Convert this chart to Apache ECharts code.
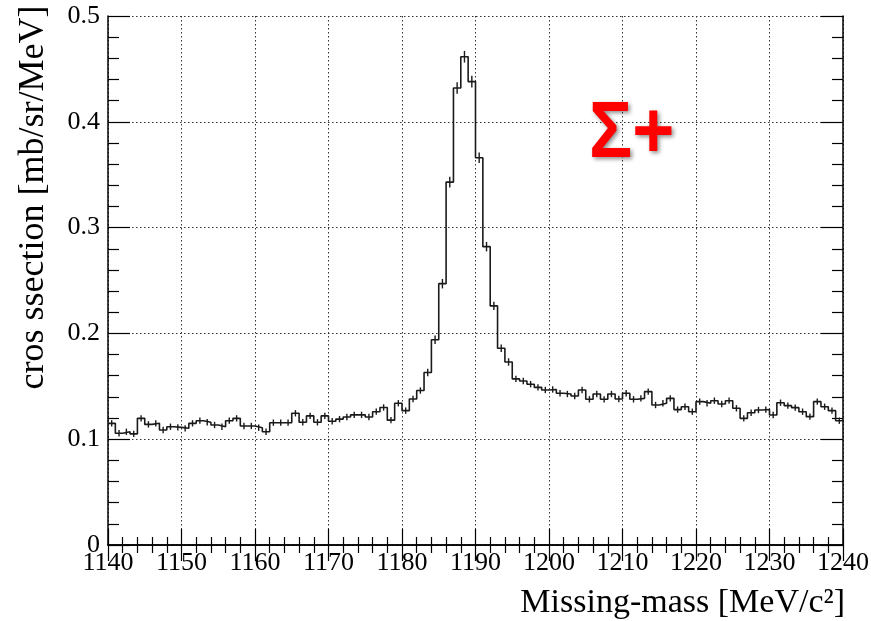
<!DOCTYPE html>
<html>
<head>
<meta charset="utf-8">
<script src="https://cdn.jsdelivr.net/npm/echarts@6/dist/echarts.min.js"></script>
<style>html,body{margin:0;padding:0;background:#fff;}#c{width:871px;height:621px;}</style>
</head>
<body>
<div id="c"></div>
<script>
// Bin lower edges (MeV/c^2), 1 MeV bins
const binStart = [1140,1141,1142,1143,1144,1145,1146,1147,1148,1149,
  1150,1151,1152,1153,1154,1155,1156,1157,1158,1159,
  1160,1161,1162,1163,1164,1165,1166,1167,1168,1169,
  1170,1171,1172,1173,1174,1175,1176,1177,1178,1179,
  1180,1181,1182,1183,1184,1185,1186,1187,1188,1189,
  1190,1191,1192,1193,1194,1195,1196,1197,1198,1199,
  1200,1201,1202,1203,1204,1205,1206,1207,1208,1209,
  1210,1211,1212,1213,1214,1215,1216,1217,1218,1219,
  1220,1221,1222,1223,1224,1225,1226,1227,1228,1229,
  1230,1231,1232,1233,1234,1235,1236,1237,1238,1239];
const binWidth = 1;
// cross section per bin (mb/sr/MeV)
const crossSection = [0.115,0.1056,0.107,0.105,0.1197,0.114,0.115,0.1087,0.1118,0.1112,
  0.1103,0.115,0.1175,0.116,0.1134,0.1118,0.1175,0.1197,0.1125,0.1125,
  0.1109,0.107,0.1156,0.1156,0.1156,0.1245,0.116,0.122,0.116,0.122,
  0.117,0.119,0.121,0.123,0.123,0.121,0.126,0.130,0.118,0.134,
  0.127,0.138,0.146,0.163,0.194,0.247,0.343,0.432,0.4615,0.438,
  0.366,0.282,0.226,0.186,0.173,0.157,0.155,0.152,0.149,0.1465,
  0.147,0.1434,0.1427,0.1408,0.1465,0.1377,0.1427,0.1377,0.1427,0.138,
  0.1434,0.1377,0.1386,0.145,0.1323,0.134,0.1386,0.128,0.1307,0.126,
  0.1355,0.134,0.1364,0.1333,0.1364,0.1292,0.1197,0.125,0.1276,0.128,
  0.1229,0.1345,0.1317,0.1298,0.126,0.1213,0.1355,0.1307,0.127,0.1175];
// statistical errors per bin
const errors = [0.003,0.003,0.003,0.003,0.003,0.003,0.003,0.003,0.003,0.003,
  0.003,0.003,0.003,0.003,0.003,0.003,0.003,0.003,0.003,0.003,
  0.003,0.003,0.003,0.003,0.003,0.003,0.003,0.003,0.003,0.003,
  0.003,0.003,0.003,0.003,0.003,0.003,0.003,0.003,0.003,0.003,
  0.003,0.003,0.003,0.0035,0.004,0.0045,0.005,0.0055,0.0055,0.0055,
  0.005,0.0045,0.004,0.0035,0.0035,0.003,0.003,0.003,0.003,0.003,
  0.003,0.003,0.003,0.003,0.003,0.003,0.003,0.003,0.003,0.003,
  0.003,0.003,0.003,0.003,0.003,0.003,0.003,0.003,0.003,0.003,
  0.003,0.003,0.003,0.003,0.003,0.003,0.003,0.003,0.003,0.003,
  0.003,0.003,0.003,0.003,0.003,0.003,0.003,0.003,0.003,0.003];
const xTicks = [1140,1150,1160,1170,1180,1190,1200,1210,1220,1230,1240];
const yTicks = [0,0.1,0.2,0.3,0.4,0.5];
const xTitle = 'Missing-mass [MeV/c²]';
const yTitle = 'cros ssection [mb/sr/MeV]';
const annotation = 'Σ+';

const stepData = binStart.map((x, i) => [x, crossSection[i]]);
stepData.push([binStart[binStart.length - 1] + binWidth, crossSection[crossSection.length - 1]]);
const errData = binStart.map((x, i) => [x + binWidth / 2, crossSection[i] - errors[i], crossSection[i] + errors[i]]);

const serif = '"Liberation Serif", "DejaVu Serif", serif';
const tickFont = {fontFamily: serif, fontSize: 26, color: '#000'};
const frameLine = {show: true, lineStyle: {color: '#000', width: 1.5}};
const gridLine = {show: true, lineStyle: {color: '#333', width: 1, type: [1.5, 2.5]}};

function xAx(pos, main) {
  return {
    type: 'value', position: pos, min: xTicks[0], max: xTicks[xTicks.length - 1], interval: 10,
    axisLine: frameLine,
    axisTick: {show: true, inside: true, length: 16, lineStyle: {color: '#000', width: 1.2}},
    minorTick: {show: true, splitNumber: 5, length: 8, lineStyle: {color: '#000', width: 1.2}},
    axisLabel: main ? Object.assign({show: true, margin: 5, showMinLabel: true, showMaxLabel: true,
      formatter: v => String(v)}, tickFont) : {show: false},
    splitLine: main ? gridLine : {show: false},
    name: main ? xTitle : '', nameLocation: 'end', nameGap: 2,
    nameTextStyle: {fontFamily: serif, fontSize: 34, color: '#000', align: 'right', verticalAlign: 'top', padding: [41, 0, 0, 0]}
  };
}
function yAx(pos, main) {
  return {
    type: 'value', position: pos, min: yTicks[0], max: yTicks[yTicks.length - 1], interval: 0.1,
    axisLine: frameLine,
    axisTick: {show: true, inside: true, length: 22, lineStyle: {color: '#000', width: 1.2}},
    minorTick: {show: true, splitNumber: 5, length: 11, lineStyle: {color: '#000', width: 1.2}},
    axisLabel: main ? Object.assign({show: true, margin: 8, formatter: v => (v === 0 ? '0' : v.toFixed(1))}, tickFont) : {show: false},
    splitLine: main ? gridLine : {show: false},
    name: main ? yTitle : '', nameLocation: 'middle', nameGap: 56, nameRotate: 90,
    nameTextStyle: {fontFamily: serif, fontSize: 36, color: '#000', padding: [0, 0, 0, 166]}
  };
}

const chart = echarts.init(document.getElementById('c'), null, {renderer: 'canvas'});
chart.setOption({
  animation: false,
  backgroundColor: '#fff',
  grid: {left: 108, right: 28, top: 16, bottom: 76, containLabel: false, outerBoundsMode: 'none'},
  xAxis: [xAx('bottom', true), xAx('top', false)],
  yAxis: [yAx('left', true), yAx('right', false)],
  graphic: [{
    type: 'text', x: 589, y: 95, scaleX: 0.9, z: 100,
    style: {text: annotation, fill: '#ff0000', font: 'bold 80px "Liberation Sans", Arial, sans-serif',
      textShadowColor: 'rgba(0,0,0,0.45)', textShadowBlur: 4, textShadowOffsetX: 2, textShadowOffsetY: 2}
  }],
  series: [{
    type: 'line', step: 'end', data: stepData, xAxisIndex: 0, yAxisIndex: 0,
    showSymbol: false, symbol: 'none', lineStyle: {color: '#1a1a1a', width: 1.6}, z: 5
  }, {
    type: 'custom', xAxisIndex: 0, yAxisIndex: 0, data: errData, z: 6,
    renderItem: function (params, api) {
      const lo = api.coord([api.value(0), api.value(1)]);
      const hi = api.coord([api.value(0), api.value(2)]);
      return {type: 'line', shape: {x1: lo[0], y1: lo[1], x2: hi[0], y2: hi[1]},
        style: {stroke: '#1a1a1a', lineWidth: 1.4}};
    }
  }]
});
</script>
</body>
</html>
